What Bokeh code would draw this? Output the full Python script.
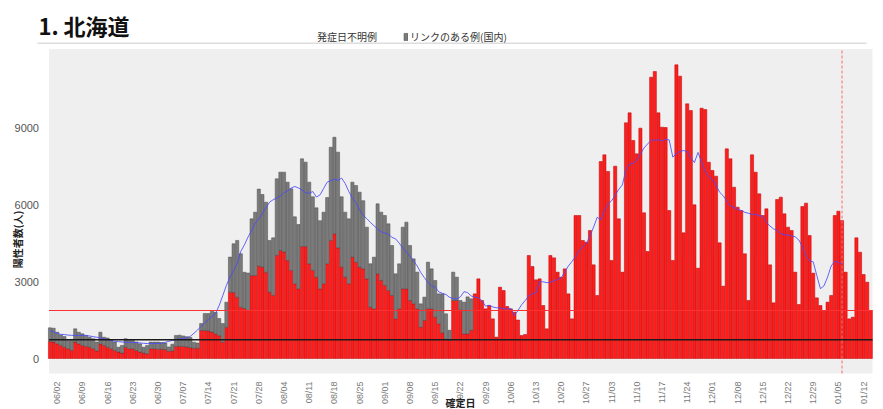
import math
import numpy as np
import pandas as pd
from bokeh.plotting import figure
from bokeh.models import (ColumnDataSource, Range1d, FixedTicker, Label,
                          BoxAnnotation, Legend, LegendItem)
from bokeh.embed import file_html
from bokeh.resources import INLINE

# ---------------- data ----------------
start_date = "2022-05-31"

# red bars (lower part)
unlinked = [
    660, 640, 570, 510, 440, 380, 320,
    640, 570, 510, 470, 440, 380, 290,
    570, 510, 440, 380, 310, 250, 210,
    440, 380, 380, 310, 250, 210, 180,
    380, 380, 360, 360, 350, 280, 300,
    470, 480, 470, 450, 420, 400, 400,
    1090, 1090, 1070, 1030, 960, 890, 635,
    1220, 2585, 2570, 2390, 2000, 1950, 1870,
    3230, 3230, 3600, 3560, 3360, 2585, 2460,
    4020, 4210, 4150, 3820, 3430, 2910, 2715,
    4360, 4360, 3690, 3430, 3170, 2715, 2910,
    3690, 4600, 4860, 4310, 3560, 3170, 2910,
    3950, 3750, 3560, 3490, 3100, 2000, 1935,
    3299, 3039, 2844, 2649, 2454, 1545, 1935,
    2714, 2714, 2260, 2130, 1935, 1221, 1480,
    1935, 1935, 1610, 1350, 1000, 750, 700,
    2260, 2260, 1900, 960, 961, 1100,
    2519, 3104, 2260, 1935, 2065, 1545, 831,
    2779, 2649, 2025, 1935, 1805, 1500, 896,
    935, 4013, 3585, 3065, 3104, 2065, 1156,
    4013, 3922, 3364, 3169, 3493, 2519, 1545,
    5571, 5571, 4597, 4533, 4987, 3650, 2454,
    7675, 7935, 7286, 3818, 7493, 5441, 3364,
    9182, 9571, 8493, 7974, 8974, 5675, 4169,
    10960, 11181, 9571, 9013, 9000, 5766, 3818,
    11442, 11000, 4896, 9922, 9662, 5987, 3519,
    9753, 9701, 7649, 7325, 7104, 4506, 2818,
    8168, 7779, 6675, 5896, 5766, 4078, 2260,
    7935, 7260, 6415, 5571, 5831, 3649, 2169,
    6195, 6286, 5636, 5117, 4987, 3364, 2104,
    5922, 6052, 4792, 3325, 2363, 2065, 1844,
    2195, 2454, 5571, 5740, 5377, 3364, 1545,
    1610, 4701, 4143, 3273, 2974, 1870,
]

# dark gray bars stacked on top (linked cases), only until 09/25
linked = [
    535, 540, 455, 410, 420, 320, 380,
    515, 455, 450, 430, 390, 390, 350,
    455, 320, 360, 320, 330, 190, 300,
    330, 360, 320, 330, 320, 230, 330,
    260, 260, 280, 260, 250, 170, 260,
    430, 430, 410, 400, 400, 235, 200,
    270, 660, 680, 815, 840, 670, 725,
    975, 1365, 1900, 2210, 2080, 1410, 1460,
    2210, 2470, 3000, 2830, 2730, 2015, 2240,
    2980, 3050, 3110, 3050, 3180, 2610, 2505,
    3420, 3290, 3180, 2870, 2700, 2655, 2790,
    2580, 3630, 3760, 3730, 2740, 2530, 2530,
    2920, 2990, 2920, 2660, 2017, 1690, 2013,
    2727, 2663, 2727, 2598, 1949, 1754, 1753,
    2403, 2598, 2143, 1753, 1429, 909, 910,
    1818, 1558, 1429, 1169, 1519, 990, 400,
    1104, 909, 360, 1235, 1439, 1225,
] + [0] * 111

y_ticks = [0, 3000, 6000, 9000]
first_tick_day = 2          # 06/02
tick_step = 7
red_level = 1870
black_level = 730
marker_day = 220            # dashed line / end of the average line

legend_labels = ["発症日不明例", "リンクのある例(国内)"]
title_text = "1. 北海道"
y_label = "陽性者数(人)"
x_label = "確定日"

# ---------------- layout helpers (page pixels -> data) ----------------
W, H = 883, 409
X_PX0, X_PX_PER_DAY = 49.5, 3.6       # page x of the first day, px per day
Y_PX0, Y_PX_PER_UNIT = 358.0, 77 / 3000.0


def px_to_x(px):
    return (px - X_PX0) / X_PX_PER_DAY


def px_to_y(py):
    return (Y_PX0 - py) / Y_PX_PER_UNIT


area_left, area_right = px_to_x(48.5), px_to_x(872)
area_bottom, area_top = px_to_y(373), px_to_y(48.5)

# ---------------- derived ----------------
n = len(unlinked)
dates = pd.date_range(start_date, periods=n, freq="D")
xs = np.arange(n)
red = np.array(unlinked, dtype=float)
gray = np.array(linked, dtype=float)
total = red + gray
avg7 = pd.Series(total).rolling(7, center=True, min_periods=4).mean().to_numpy()

src_red = ColumnDataSource(dict(x=xs, top=red))
mask = gray > 0
src_gray = ColumnDataSource(dict(x=xs[mask], bottom=red[mask], top=total[mask]))
src_avg = ColumnDataSource(dict(x=xs[:marker_day + 1], y=avg7[:marker_day + 1]))

FONT = "Noto Sans CJK JP"

p = figure(width=W, height=H, output_backend="svg", toolbar_location=None,
           x_range=Range1d(px_to_x(0), px_to_x(W)),
           y_range=Range1d(px_to_y(H), px_to_y(0)),
           min_border_left=0, min_border_right=0, min_border_top=0,
           min_border_bottom=0)
p.title_location = None
p.background_fill_color = "white"
p.border_fill_color = "white"
p.outline_line_color = None
p.xgrid.visible = False
p.ygrid.visible = False

# plot-area background
p.add_layout(BoxAnnotation(left=area_left, right=area_right,
                           bottom=area_bottom, top=area_top,
                           fill_color="#efefef", fill_alpha=1,
                           line_color=None, level="underlay"))

r_red = p.vbar(x="x", top="top", bottom=0, width=0.88, source=src_red,
               fill_color="#ff1e1e", line_color="#b80000", line_width=0.5)
r_gray = p.vbar(x="x", top="top", bottom="bottom", width=0.88, source=src_gray,
                fill_color="#7b7b7b", line_color="#4a4a4a", line_width=0.5)
r_empty = p.vbar(x=[], top=[], width=0.88, fill_color="#d9d9d9",
                 line_color="#d9d9d9")
p.line(x="x", y="y", source=src_avg, line_color="#4a4aff", line_width=1,
       line_alpha=0.85)

# reference lines
p.segment(x0=[area_left], x1=[area_right], y0=[red_level], y1=[red_level],
          line_color="#ff3030", line_width=1)
p.segment(x0=[area_left], x1=[area_right], y0=[black_level], y1=[black_level],
          line_color="#1a1a1a", line_width=1.5)
p.segment(x0=[marker_day], x1=[marker_day], y0=[area_bottom], y1=[area_top],
          line_color="#ff6a6a", line_width=1, line_dash="3 2")

# axes drawn at the edges of the plot area
p.xaxis.fixed_location = area_bottom
p.xaxis.ticker = FixedTicker(ticks=list(range(first_tick_day, n, tick_step)))
p.xaxis.major_label_overrides = {int(t): dates[t].strftime("%m/%d")
                                 for t in range(first_tick_day, n, tick_step)}
p.xaxis.major_label_orientation = math.pi / 2
p.xaxis.major_label_text_font_size = "9px"
p.xaxis.major_label_text_color = "#7a7a7a"
p.xaxis.major_label_text_font = "Liberation Sans"
p.xaxis.major_label_standoff = 2
p.xaxis.axis_line_color = None
p.xaxis.major_tick_line_color = None
p.xaxis.minor_tick_line_color = None

p.yaxis.fixed_location = area_left
p.yaxis.ticker = FixedTicker(ticks=y_ticks)
p.yaxis.major_label_text_font_size = "11px"
p.yaxis.major_label_text_color = "#555555"
p.yaxis.major_label_text_font = "Liberation Sans"
p.yaxis.major_label_standoff = 4
p.yaxis.axis_line_color = None
p.yaxis.major_tick_line_color = None
p.yaxis.minor_tick_line_color = None

# legend (location = bottom-left corner, pixels from the canvas bottom-left)
legend = Legend(items=[LegendItem(label=legend_labels[0], renderers=[r_empty]),
                       LegendItem(label=legend_labels[1], renderers=[r_gray])],
                orientation="horizontal", location=(310, H - 44),
                border_line_color=None, background_fill_alpha=0,
                padding=0, margin=0, spacing=26, glyph_width=5, glyph_height=9,
                label_standoff=2, label_height=10,
                label_text_font_size="10px", label_text_font=FONT,
                label_text_color="#333333")
p.add_layout(legend)

# thin gray rule under the legend
p.add_layout(BoxAnnotation(left=37, right=866, bottom=H - 43.5, top=H - 42,
                           left_units="screen", right_units="screen",
                           bottom_units="screen", top_units="screen",
                           fill_color="#dddddd", fill_alpha=1, line_color=None))

p.add_layout(Label(x=38, y=H - 24, x_units="screen", y_units="screen",
                   text=title_text, text_font=FONT, text_font_size="22px",
                   text_font_style="bold", text_color="#111111",
                   text_baseline="alphabetic"))
p.add_layout(Label(x=17, y=H - 239, x_units="screen", y_units="screen",
                   text=y_label, angle=math.pi / 2, text_align="center",
                   text_baseline="middle", text_font=FONT,
                   text_font_size="10px", text_font_style="bold",
                   text_color="#222222"))
p.add_layout(Label(x=460, y=H - 401.5, x_units="screen", y_units="screen",
                   text=x_label, text_align="center", text_baseline="middle",
                   text_font=FONT, text_font_size="10px",
                   text_font_style="bold", text_color="#222222"))

open("out.html", "w").write(file_html(p, INLINE))
